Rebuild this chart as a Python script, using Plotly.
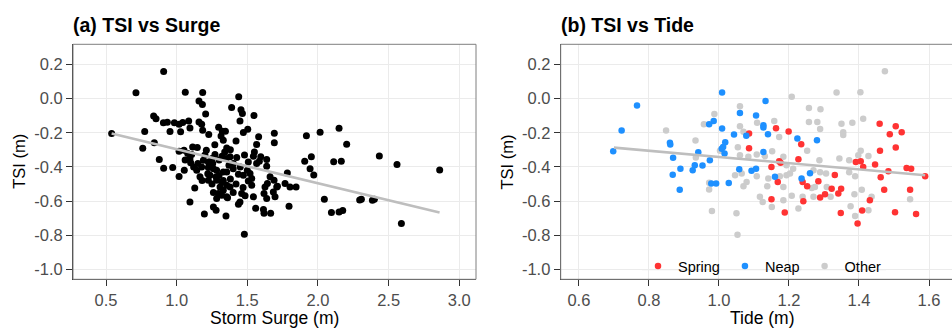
import plotly.graph_objects as go

# ---------------- data ----------------
# Panel (a): storm surge (m) against TSI (m)
surge = [
    0.908, 0.712, 1.061, 0.837, 0.854, 0.906, 0.934, 0.984, 1.017, 1.043,
    1.085, 0.953, 1.028, 1.094, 0.540, 0.774, 0.842, 0.760, 1.017, 1.052,
    1.078, 1.106, 0.877, 1.094, 1.099, 0.908, 0.972, 1.054, 1.017,
    1.184, 1.439, 1.158, 1.182, 1.389, 1.455, 1.465, 1.205, 1.547, 1.448,
    1.158, 1.177, 1.297, 1.503, 1.184, 1.323, 1.345, 1.472, 1.691, 1.227,
    1.314, 1.580, 1.330, 1.420, 1.691, 1.566, 1.113, 1.146, 1.354, 1.210,
    1.340, 1.550, 1.271, 1.321, 1.378, 1.425, 1.543, 1.595, 1.189, 1.224,
    1.255, 1.507, 1.585, 1.637, 1.401, 1.370, 1.177, 1.224, 1.260, 1.283,
    1.566, 1.637, 1.330, 1.354, 1.437, 1.472, 1.519, 1.142, 1.165, 1.236,
    1.279, 1.661, 1.689, 1.713, 1.531, 1.507, 1.531, 1.224, 1.283, 1.319,
    1.354, 1.128, 1.307, 1.330, 1.378, 1.642, 1.625, 1.708, 1.684, 1.460,
    1.484, 1.543, 1.295, 1.319, 1.354, 1.283, 1.618, 1.696, 1.637, 1.448,
    1.437, 1.260, 1.279, 1.795, 1.559, 1.614, 1.618, 1.665, 1.196, 1.349,
    1.479, 1.767, 1.802, 1.845, 1.783, 1.906, 1.953, 1.944, 1.970, 1.918,
    2.015, 2.045, 1.094,
    2.149, 2.203, 2.111, 2.165, 2.434, 2.559, 2.861, 2.095, 2.149, 2.175,
    2.295, 2.307, 2.385, 2.399, 2.590,
    1.200, 1.250, 1.300, 1.350, 1.400, 1.450, 1.220, 1.300, 1.380, 1.420,
    1.250, 1.330, 1.400, 1.470, 1.500, 1.180, 1.150, 1.270, 1.380, 1.480,
    1.360, 1.260, 1.120, 1.060,
]
surge_tsi = [
    0.158, 0.033, 0.037, -0.102, -0.119, -0.142, -0.139, -0.142, -0.150, -0.140,
    -0.131, -0.193, -0.195, -0.172, -0.205, -0.193, -0.258, -0.291, -0.308, -0.302,
    -0.322, -0.328, -0.357, -0.353, -0.376, -0.408, -0.404, -0.419, -0.456,
    0.035, 0.011, -0.014, -0.035, -0.053, -0.065, -0.088, -0.090, -0.100, -0.131,
    -0.137, -0.150, -0.168, -0.180, -0.185, -0.191, -0.191, -0.199, -0.203, -0.211,
    -0.219, -0.223, -0.244, -0.248, -0.258, -0.269, -0.283, -0.287, -0.289, -0.302,
    -0.312, -0.312, -0.328, -0.337, -0.341, -0.345, -0.337, -0.341, -0.361, -0.371,
    -0.380, -0.371, -0.367, -0.357, -0.380, -0.390, -0.400, -0.404, -0.410, -0.419,
    -0.380, -0.396, -0.429, -0.429, -0.443, -0.449, -0.439, -0.419, -0.458, -0.449,
    -0.458, -0.458, -0.478, -0.513, -0.468, -0.482, -0.507, -0.478, -0.478, -0.488,
    -0.507, -0.523, -0.517, -0.536, -0.517, -0.497, -0.517, -0.517, -0.546, -0.556,
    -0.569, -0.575, -0.556, -0.566, -0.575, -0.585, -0.556, -0.575, -0.585, -0.605,
    -0.618, -0.634, -0.653, -0.630, -0.642, -0.649, -0.671, -0.671, -0.675, -0.687,
    -0.794, -0.497, -0.517, -0.517, -0.435, -0.367, -0.341, -0.410, -0.447, -0.217,
    -0.197, -0.589, -0.605,
    -0.174, -0.268, -0.369, -0.367, -0.336, -0.386, -0.418, -0.667, -0.663, -0.655,
    -0.593, -0.589, -0.595, -0.589, -0.731,
    -0.330, -0.350, -0.360, -0.350, -0.410, -0.400, -0.440, -0.450, -0.470, -0.500,
    -0.500, -0.480, -0.550, -0.520, -0.420, -0.480, -0.380, -0.270, -0.300, -0.330,
    -0.580, -0.550, -0.400, -0.360,
]
surge_fit_x = [0.54, 2.86]
surge_fit_tsi = [-0.205, -0.667]

# Panel (b): tide (m) against TSI (m), split by tide class
spring_tide = [
    1.163, 1.199, 1.086, 1.235, 1.086, 1.172, 1.176, 1.227, 1.150, 1.168,
    1.239, 1.252, 1.150, 1.241, 1.188,
    1.459, 1.505, 1.522, 1.488, 1.505, 1.460, 1.391, 1.405, 1.412, 1.446,
    1.484, 1.536, 1.549, 1.589, 1.462, 1.331, 1.284, 1.322, 1.349, 1.341,
    1.303, 1.289, 1.472, 1.546, 1.431, 1.348, 1.409, 1.396, 1.503, 1.563,
]
spring_tsi = [
    -0.174, -0.193, -0.205, -0.267, -0.291, -0.367, -0.376, -0.355, -0.400, -0.488,
    -0.488, -0.513, -0.589, -0.600, -0.667,
    -0.148, -0.162, -0.197, -0.209, -0.287, -0.306, -0.371, -0.367, -0.400, -0.386,
    -0.425, -0.406, -0.410, -0.455, -0.460, -0.447, -0.484, -0.527, -0.527, -0.556,
    -0.560, -0.579, -0.533, -0.533, -0.595, -0.669, -0.655, -0.731, -0.665, -0.675,
]
neap_tide = [
    0.766, 0.722, 0.860, 0.861, 0.698, 0.869, 0.890, 0.868, 0.888,
    1.009, 1.133, 1.060, 1.106, 0.985, 0.972, 1.127, 1.127, 1.009, 1.043,
    1.078, 1.140, 1.224, 1.018, 1.012, 1.008, 1.016, 1.127, 0.941, 0.974,
    0.931, 0.925, 0.953, 1.058, 1.093, 1.106, 0.978, 0.992, 1.028, 1.160,
    1.236, 1.280, 1.260,
]
neap_tsi = [
    -0.041, -0.187, -0.258, -0.269, -0.308, -0.347, -0.410, -0.445, -0.533,
    0.035, -0.014, -0.084, -0.100, -0.131, -0.150, -0.156, -0.170, -0.176, -0.211,
    -0.217, -0.209, -0.234, -0.256, -0.283, -0.293, -0.322, -0.312, -0.314, -0.361,
    -0.390, -0.419, -0.392, -0.413, -0.423, -0.410, -0.497, -0.497, -0.494, -0.458,
    -0.468, -0.244, -0.437,
]
other_tide = [
    0.849,
    1.208, 1.060, 0.987, 1.257, 1.257, 0.957, 1.060, 1.158, 1.109, 1.070,
    1.172, 0.933, 1.054, 1.003, 1.152, 1.108, 1.131, 1.084, 1.060, 0.934,
    1.184, 1.193, 1.212, 1.203, 1.193, 1.174, 1.046, 1.065, 1.108, 1.079,
    1.070, 1.141, 0.972, 0.972, 1.138, 1.184, 1.117, 1.125, 1.151, 1.184,
    1.208, 1.227, 0.980, 1.050, 1.053,
    1.474, 1.336, 1.404, 1.290, 1.281, 1.289, 1.350, 1.381, 1.412, 1.355,
    1.355, 1.252, 1.405, 1.398, 1.427, 1.287, 1.270, 1.289, 1.306, 1.344,
    1.372, 1.372, 1.389, 1.274, 1.265, 1.308, 1.270, 1.319, 1.408, 1.387,
    1.436, 1.427, 1.376, 1.389, 1.546, 1.239,
]
other_tsi = [
    -0.187,
    0.010, -0.045, -0.090, -0.055, -0.137, -0.150, -0.162, -0.131, -0.142, -0.195,
    -0.225, -0.246, -0.285, -0.306, -0.308, -0.328, -0.337, -0.341, -0.332, -0.345,
    -0.341, -0.390, -0.410, -0.439, -0.449, -0.455, -0.449, -0.439, -0.455, -0.488,
    -0.513, -0.468, -0.493, -0.532, -0.513, -0.517, -0.575, -0.605, -0.634, -0.595,
    -0.569, -0.643, -0.657, -0.671, -0.796,
    0.160, 0.035, 0.037, -0.063, -0.137, -0.178, -0.148, -0.142, -0.119, -0.197,
    -0.213, -0.306, -0.306, -0.332, -0.336, -0.361, -0.419, -0.431, -0.439, -0.351,
    -0.361, -0.431, -0.455, -0.517, -0.523, -0.517, -0.575, -0.575, -0.533, -0.560,
    -0.575, -0.653, -0.630, -0.687, -0.589, -0.575,
]
tide_fit_x = [0.70, 1.589]
tide_fit_tsi = [-0.287, -0.449]

surge_ticks = [0.5, 1.0, 1.5, 2.0, 2.5, 3.0]
surge_tick_text = ["0.5", "1.0", "1.5", "2.0", "2.5", "3.0"]
tide_ticks = [0.6, 0.8, 1.0, 1.2, 1.4, 1.6]
tide_tick_text = ["0.6", "0.8", "1.0", "1.2", "1.4", "1.6"]
tsi_ticks = [0.2, 0.0, -0.2, -0.4, -0.6, -0.8, -1.0]
tsi_tick_text = ["0.2", "0.0", "-0.2", "-0.4", "-0.6", "-0.8", "-1.0"]

# ---------------- layout helpers ----------------
W, H = 952, 328
FONT = "Arial, Liberation Sans, sans-serif"
RED, BLUE, GREY, FIT = "#FF3333", "#1E90FF", "#CCCCCC", "#BEBEBE"


def fx(p):
    return p / W


def fy(p):
    return 1 - p / H


top, bottom = 44.3, 279.3
a_left, a_right = 73, 476
b_left = 560.7

fig = go.Figure()

# panel (a)
fig.add_trace(go.Scatter(
    x=surge, y=surge_tsi, mode="markers", xaxis="x", yaxis="y",
    marker=dict(color="black", size=7, line=dict(width=0)), showlegend=False,
))
fig.add_trace(go.Scatter(
    x=surge_fit_x, y=surge_fit_tsi, mode="lines", xaxis="x", yaxis="y",
    line=dict(color=FIT, width=2.6), showlegend=False,
))

# panel (b)
for name, xs, ys, col, rank in [
    ("Other", other_tide, other_tsi, GREY, 3),
    ("Spring", spring_tide, spring_tsi, RED, 1),
    ("Neap", neap_tide, neap_tsi, BLUE, 2),
]:
    fig.add_trace(go.Scatter(
        x=xs, y=ys, mode="markers", name=name, xaxis="x2", yaxis="y2",
        marker=dict(color=col, size=6.5, line=dict(width=0)), legendrank=rank,
    ))
fig.add_trace(go.Scatter(
    x=tide_fit_x, y=tide_fit_tsi, mode="lines", xaxis="x2", yaxis="y2",
    line=dict(color=FIT, width=2.6), showlegend=False,
))

axis_common = dict(
    showgrid=True, gridcolor="#EBEBEB", gridwidth=1.3, zeroline=False,
    showline=True, linecolor="#333333", linewidth=1,
    ticks="outside", ticklen=6, tickcolor="#333333", tickwidth=1,
    tickfont=dict(family=FONT, size=16.5, color="#4D4D4D"),
    tickmode="array", fixedrange=True,
)
yrange = [-1.057, 0.317]
ydomain = [fy(bottom), fy(top)]

fig.update_layout(
    width=W, height=H, margin=dict(l=0, r=0, t=0, b=0),
    paper_bgcolor="white", plot_bgcolor="white",
    font=dict(family=FONT, color="black"),
    xaxis=dict(axis_common, domain=[fx(a_left), fx(a_right)], range=[0.2665, 3.118],
               tickvals=surge_ticks, ticktext=surge_tick_text, anchor="y"),
    yaxis=dict(axis_common, domain=ydomain, range=yrange,
               tickvals=tsi_ticks, ticktext=tsi_tick_text, anchor="x"),
    xaxis2=dict(axis_common, domain=[fx(b_left), 1.0], range=[0.548, 1.6657],
                tickvals=tide_ticks, ticktext=tide_tick_text, anchor="y2"),
    yaxis2=dict(axis_common, domain=ydomain, range=yrange,
                tickvals=tsi_ticks, ticktext=tsi_tick_text, anchor="x2"),
    legend=dict(
        orientation="h", x=fx(638), y=fy(266), xanchor="left", yanchor="middle",
        bgcolor="rgba(0,0,0,0)", font=dict(family=FONT, size=14.5, color="black"),
        traceorder="normal",
    ),
    showlegend=True,
)

# panel borders
shapes = [
    dict(type="rect", xref="paper", yref="paper", x0=fx(a_left), x1=fx(a_right),
         y0=fy(bottom), y1=fy(top), line=dict(color="#7F7F7F", width=1), layer="above"),
    dict(type="rect", xref="paper", yref="paper", x0=fx(b_left), x1=1.05,
         y0=fy(bottom), y1=fy(top), line=dict(color="#7F7F7F", width=1), layer="above"),
    # legend box hides the vertical grid lines behind the keys
    dict(type="rect", xref="paper", yref="paper", x0=fx(642), x1=fx(886),
         y0=fy(278.6), y1=fy(249), fillcolor="white", line=dict(width=0), layer="between"),
    dict(type="line", xref="paper", yref="y2", x0=fx(642), x1=fx(886), y0=-1.0, y1=-1.0,
         line=dict(color="#EBEBEB", width=1.3), layer="between"),
]
fig.update_layout(shapes=shapes)

annotations = [
    dict(text="<b>(a) TSI vs Surge</b>", x=fx(71), y=fy(25), xanchor="left",
         yanchor="middle", font=dict(size=19.5)),
    dict(text="<b>(b) TSI vs Tide</b>", x=fx(559), y=fy(25), xanchor="left",
         yanchor="middle", font=dict(size=19.5)),
    dict(text="Storm Surge (m)", x=fx((a_left + a_right) / 2), y=fy(318),
         xanchor="center", yanchor="middle", font=dict(size=17.5)),
    dict(text="Tide (m)", x=fx(b_left + 201.5), y=fy(318),
         xanchor="center", yanchor="middle", font=dict(size=17.5)),
    dict(text="TSI (m)", x=fx(19), y=fy((top + bottom) / 2), textangle=-90,
         xanchor="center", yanchor="middle", font=dict(size=16.5)),
    dict(text="TSI (m)", x=fx(b_left - 54), y=fy((top + bottom) / 2), textangle=-90,
         xanchor="center", yanchor="middle", font=dict(size=16.5)),
]
for a in annotations:
    a.update(xref="paper", yref="paper", showarrow=False)
    a["font"] = dict(family=FONT, color="black", **a["font"])
fig.update_layout(annotations=annotations)

fig.write_html("out.html")
